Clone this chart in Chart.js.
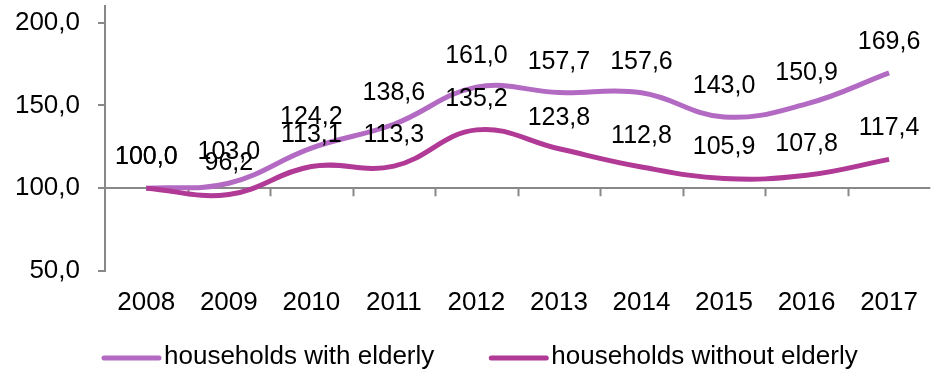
<!DOCTYPE html>
<html>
<head>
<meta charset="utf-8">
<script src="https://cdn.jsdelivr.net/npm/chart.js@4"></script>
<style>
  body { margin: 0; background: #fff; }
  #wrap { width: 934px; height: 372px; }
</style>
</head>
<body>
<div id="wrap"><canvas id="chart" width="934" height="372"></canvas></div>
<script>
// years and index values (2008 = 100)
const years = ['2008', '2009', '2010', '2011', '2012', '2013', '2014', '2015', '2016', '2017'];
const withElderly = [100.0, 103.0, 124.2, 138.6, 161.0, 157.7, 157.6, 143.0, 150.9, 169.6];
const withoutElderly = [100.0, 96.2, 113.1, 113.3, 135.2, 123.8, 112.8, 105.9, 107.8, 117.4];
const yTicks = [50, 100, 150, 200];

const AXIS_GREY = '#888888';
const FONT = '"Liberation Sans", Arial, sans-serif';

function fmt(v) {
    return v.toFixed(1).replace('.', ',');
}

// tick marks hanging under the 100 line, between categories
const crossTicks = {
    id: 'crossTicks',
    beforeDatasetsDraw(chart) {
        const x = chart.scales.x, y = chart.scales.y;
        const ctx = chart.ctx;
        const y0 = y.getPixelForValue(100);
        const step = x.getPixelForValue(1) - x.getPixelForValue(0);
        ctx.save();
        ctx.strokeStyle = AXIS_GREY;
        ctx.lineWidth = 2;
        ctx.beginPath();
        for (let i = 1; i < years.length; i++) {
            const px = Math.round(x.getPixelForValue(i) - step / 2) + 0.5;
            ctx.moveTo(px, y0);
            ctx.lineTo(px, y0 + 8);
        }
        ctx.stroke();
        ctx.restore();
    }
};

// value labels above each point
const valueLabels = {
    id: 'valueLabels',
    afterDatasetsDraw(chart) {
        const ctx = chart.ctx;
        ctx.save();
        ctx.font = '25px ' + FONT;
        ctx.fillStyle = '#000';
        ctx.textAlign = 'center';
        ctx.textBaseline = 'middle';
        chart.data.datasets.forEach((ds, i) => {
            chart.getDatasetMeta(i).data.forEach((pt, j) => {
                ctx.fillText(fmt(ds.data[j]), pt.x, pt.y - 31);
            });
        });
        ctx.restore();
    }
};

// legend row at the bottom: line swatch + label per series
const bottomLegend = {
    id: 'bottomLegend',
    afterDraw(chart) {
        const ctx = chart.ctx;
        const yLine = 358;
        let x = 102;
        ctx.save();
        ctx.font = '26px ' + FONT;
        ctx.textBaseline = 'alphabetic';
        ctx.fillStyle = '#000';
        chart.data.datasets.forEach(ds => {
            ctx.strokeStyle = ds.borderColor;
            ctx.lineWidth = 5;
            ctx.lineCap = 'round';
            ctx.beginPath();
            ctx.moveTo(x + 2, yLine);
            ctx.lineTo(x + 57, yLine);
            ctx.stroke();
            const tx = x + 62;
            ctx.fillText(ds.label, tx, yLine + 6);
            x = tx + ctx.measureText(ds.label).width + 55;
        });
        ctx.restore();
    }
};

new Chart(document.getElementById('chart'), {
    type: 'line',
    data: {
        labels: years,
        datasets: [
            {
                label: 'households with elderly',
                data: withElderly,
                borderColor: '#B26AC3',
                borderWidth: 5,
                tension: 0.4,
                pointRadius: 0,
                order: 1
            },
            {
                label: 'households without elderly',
                data: withoutElderly,
                borderColor: '#B03A96',
                borderWidth: 5,
                tension: 0.4,
                pointRadius: 0,
                order: 0
            }
        ]
    },
    options: {
        responsive: false,
        animation: false,
        layout: { padding: { top: 6, right: 0, bottom: 0, left: 0 } },
        plugins: {
            legend: { display: false },
            tooltip: { enabled: false }
        },
        scales: {
            x: {
                offset: true,
                grid: { display: false, drawTicks: false },
                border: { display: false },
                ticks: {
                    color: '#000',
                    font: { family: FONT, size: 26 },
                    padding: 16,
                    maxRotation: 0
                },
                afterFit(scale) { scale.height = 101; }
            },
            y: {
                min: 50,
                max: 210,
                afterBuildTicks(scale) {
                    scale.ticks = yTicks.map(v => ({ value: v }));
                },
                grid: {
                    color: c => (c.tick && c.tick.value === 100 ? AXIS_GREY : 'rgba(0,0,0,0)'),
                    lineWidth: 2,
                    tickColor: AXIS_GREY,
                    tickLength: 7
                },
                border: { color: AXIS_GREY, width: 2 },
                ticks: {
                    color: '#000',
                    font: { family: FONT, size: 26 },
                    padding: 18,
                    callback: v => fmt(v)
                },
                afterFit(scale) {
                    scale.width = 105;
                    scale.paddingTop = 0;
                    scale.paddingBottom = 0;
                }
            }
        }
    },
    plugins: [crossTicks, valueLabels, bottomLegend]
});
</script>
</body>
</html>
